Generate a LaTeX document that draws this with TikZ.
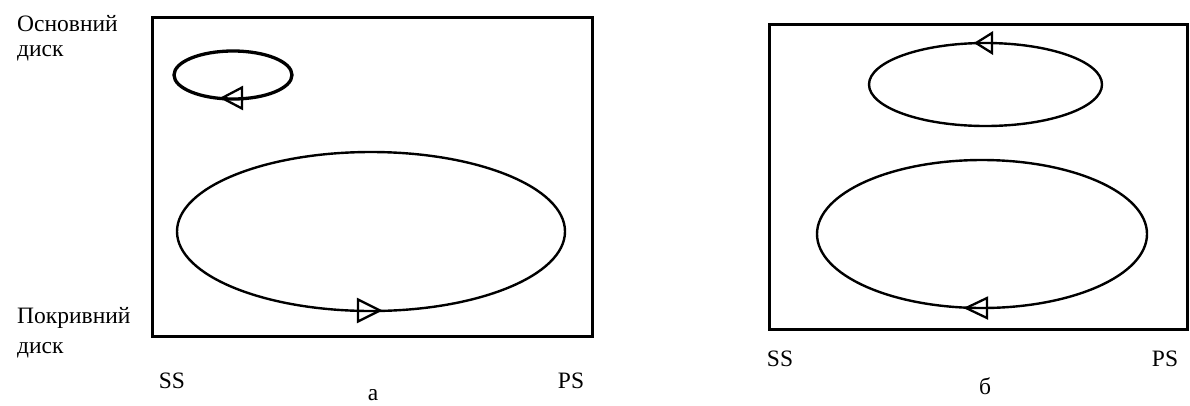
\documentclass[tikz,border=0pt]{standalone}
\usepackage{fontspec}
\setmainfont{Liberation Serif}
\begin{document}
\begin{tikzpicture}[x=1pt,y=-1pt,
  frame/.style={draw=black,line width=3pt},
  loop/.style={draw=black,line width=2.4pt},
  thickloop/.style={draw=black,line width=3.3pt},
  tri/.style={draw=black,line width=2.3pt,line join=miter},
  lbl/.style={font=\fontsize{23.5}{26}\selectfont,inner sep=0pt}]
\useasboundingbox (0,0) rectangle (1190,405);
\fill[white] (0,0) rectangle (1190,405);
% panel a
\draw[frame] (152,17) rectangle (592,336);
\draw[thickloop] (233,75) ellipse [x radius=59,y radius=24];
\draw[loop] (371,231.5) ellipse [x radius=194,y radius=79.5];
\draw[tri] (222,98) -- (242,87.5) -- (242,108.5) -- cycle;
\draw[tri] (380,310.5) -- (358,299.5) -- (358,321.5) -- cycle;
\node[lbl,anchor=west] (osn) at (17,24) {Основний};
\node[lbl,anchor=west] (osn2) at (17,53) {диск};
\node[lbl,anchor=west] (pok) at (17,318) {Покривний};
\node[lbl,anchor=west] (pok2) at (17,350) {диск};
\node[lbl] (ssa) at (172,381) {SS};
\node[lbl] (psa) at (571,381) {PS};
\node[lbl] (capa) at (373,395) {а};
% panel b
\draw[frame] (769,24) rectangle (1187,329);
\draw[loop] (985.5,84.5) ellipse [x radius=116.5,y radius=41.5];
\draw[loop] (982,234) ellipse [x radius=165,y radius=74];
\draw[tri] (976,43) -- (992,33) -- (992,53) -- cycle;
\draw[tri] (966,308) -- (987,298) -- (987,318) -- cycle;
\node[lbl] (ssb) at (780,359) {SS};
\node[lbl] (psb) at (1165,359) {PS};
\node[lbl] (capb) at (985,386) {б};
\end{tikzpicture}
\end{document}
